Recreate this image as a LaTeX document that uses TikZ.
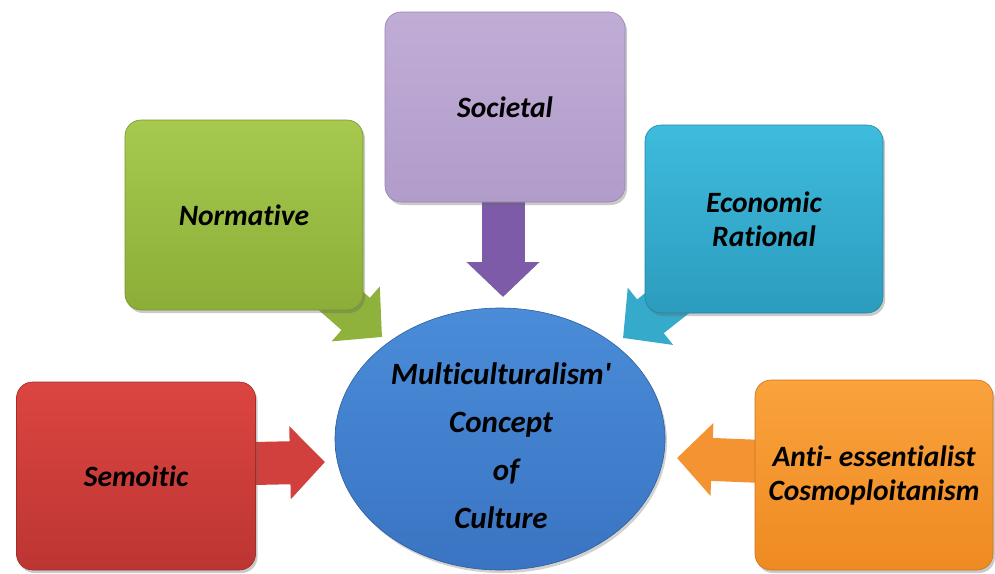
\documentclass[tikz,border=0pt]{standalone}
\usepackage{fontspec}
\setmainfont{Carlito}[Ligatures={NoCommon}]
\usetikzlibrary{arrows.meta,shadows,shapes.geometric}

% colour palette
\definecolor{lavTop}{HTML}{C0ADD6}
\definecolor{lavBot}{HTML}{B19CCA}
\definecolor{purArrow}{HTML}{7D5BA8}
\definecolor{grnTop}{HTML}{A6C94E}
\definecolor{grnBot}{HTML}{8CAE38}
\definecolor{grnArrow}{HTML}{8FB23C}
\definecolor{cyaTop}{HTML}{3EBBDD}
\definecolor{cyaBot}{HTML}{2C9CBE}
\definecolor{cyaArrow}{HTML}{35AACB}
\definecolor{redTop}{HTML}{DC4541}
\definecolor{redBot}{HTML}{BC3532}
\definecolor{redArrow}{HTML}{D1403D}
\definecolor{ornTop}{HTML}{FAA23C}
\definecolor{ornBot}{HTML}{EF8A22}
\definecolor{ornArrow}{HTML}{F39331}
\definecolor{bluTop}{HTML}{4A8CD8}
\definecolor{bluBot}{HTML}{3A74C2}

\tikzset{
  label font/.style={font=\fontsize{29.5}{34}\selectfont\bfseries\itshape, align=center},
  topicbox/.style={label font, rounded corners=16pt, draw=#1Bot!85!black, line width=0.6pt,
    top color=#1Top, bottom color=#1Bot,
    drop shadow={shadow xshift=2pt, shadow yshift=-3pt, opacity=0.35, fill=black!60}},
  blockarrow/.style={draw=#1, line width=43pt,
    -{Triangle[width=71pt,length=35pt]}},
}

\begin{document}
\begin{tikzpicture}[x=1pt,y=-1pt]
  \useasboundingbox (0,0) rectangle (995,573);

  % tip points of the block arrows
  \coordinate (tipSoc) at (503,297);
  \coordinate (tipNor) at (382,337);
  \coordinate (tipEco) at (623,338);
  \coordinate (tipSem) at (325,462);
  \coordinate (tipAnt) at (677,458);

  % block arrows (drawn first, their tails hide under the boxes)
  \coordinate (tailSoc) at (503,180);
  \coordinate (tailNor) at (292,258);
  \coordinate (tailEco) at (714,266);
  \coordinate (tailSem) at (230,464);
  \coordinate (tailAnt) at (775,462);
  \draw[blockarrow=purArrow] (tailSoc) -- (tipSoc);
  \draw[blockarrow=grnArrow] (tailNor) -- (tipNor);
  \draw[blockarrow=cyaArrow] (tailEco) -- (tipEco);
  \draw[blockarrow=redArrow] (tailSem) -- (tipSem);
  \draw[blockarrow=ornArrow] (tailAnt) -- (tipAnt);

  % topic boxes
  \node[topicbox=lav, minimum width=240pt, minimum height=190pt] (soc) at (505,107) {Societal};
  \node[topicbox=grn, minimum width=238pt, minimum height=190pt] (nor) at (244,215) {Normative};
  \node[topicbox=cya, minimum width=238pt, minimum height=188pt] (eco) at (764,219) {Economic\\Rational};
  \node[topicbox=red, minimum width=239pt, minimum height=188pt] (sem) at (136,476) {Semoitic};
  \node[topicbox=orn, minimum width=238pt, minimum height=190pt] (ant) at (874,475) {Anti- essentialist\\Cosmoploitanism};

  % central ellipse
  \node[ellipse, draw=bluBot!80!black, line width=0.6pt, top color=bluTop, bottom color=bluBot,
        minimum width=330pt, minimum height=262pt,
        drop shadow={shadow xshift=2pt, shadow yshift=-3pt, opacity=0.3, fill=black!60}]
        (core) at (500,439) {};
  \node[font=\fontsize{31}{48}\selectfont\bfseries\itshape, align=center] (coreText) at (501,446)
    {Multiculturalism\textquotesingle\\Concept\\\hspace*{10pt}of\\Culture};
\end{tikzpicture}
\end{document}
